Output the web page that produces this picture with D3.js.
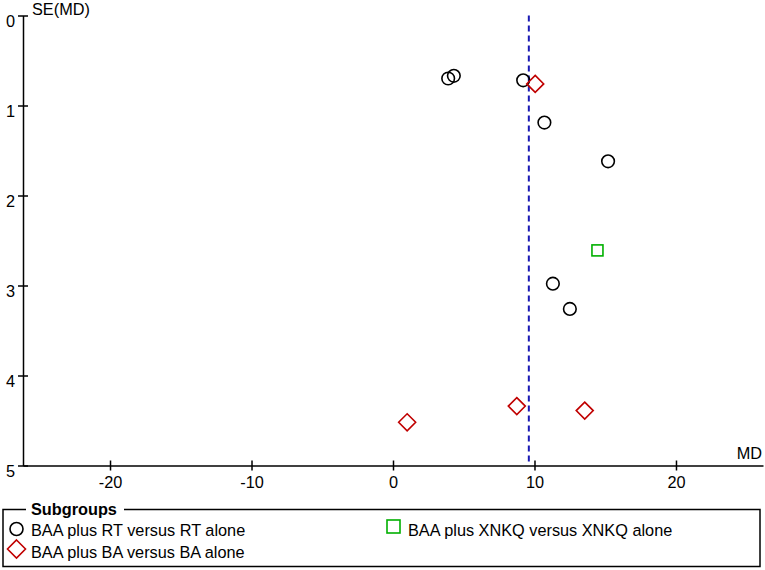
<!DOCTYPE html>
<html>
<head>
<meta charset="utf-8">
<script src="https://cdn.jsdelivr.net/npm/d3@7"></script>
<style>
  body { margin: 0; background: #fff; }
  text { font-family: "Liberation Sans", Arial, sans-serif; }
</style>
</head>
<body>
<div id="chart"></div>
<script>
// study values (MD, SE(MD))
const rtMD = [3.9, 4.3, 9.2, 10.7, 15.2, 11.3, 12.5];
const rtSE = [0.70, 0.67, 0.72, 1.19, 1.62, 2.98, 3.26];
const baMD = [10.05, 8.75, 1.0, 13.55];
const baSE = [0.76, 4.34, 4.52, 4.39];
const xnMD = [14.45];
const xnSE = [2.61];
const pooledMD = 9.6;
const xTicks = [-20, -10, 0, 10, 20];
const yTicks = [0, 1, 2, 3, 4, 5];
const legendLabels = ["BAA plus RT versus RT alone", "BAA plus BA versus BA alone", "BAA plus XNKQ versus XNKQ alone"];

const W = 765, H = 570;
const FS = 16.3;
const svg = d3.select("#chart").append("svg").attr("width", W).attr("height", H);

const xScale = d3.scaleLinear().domain([-26.15, 26.15]).range([23, 763]);
const yScale = d3.scaleLinear().domain([0, 5]).range([15.5, 465.5]);

// x axis
const xAxisG = svg.append("g")
    .attr("transform", "translate(0," + yScale(5) + ")")
    .call(d3.axisBottom(xScale).tickValues(xTicks).tickSizeOuter(0)
        .tickFormat(d => String(d)));
xAxisG.attr("font-size", FS).attr("font-family", "Liberation Sans, Arial, sans-serif");
xAxisG.select(".domain").attr("stroke-width", 1.5);
xAxisG.selectAll(".tick line").attr("y1", -5).attr("y2", 5).attr("stroke-width", 1.5);
xAxisG.selectAll(".tick text").attr("fill", "#000").attr("y", 22.5).attr("dy", 0);

// y axis
const yAxisG = svg.append("g")
    .attr("transform", "translate(" + xScale.range()[0] + ",0)")
    .call(d3.axisLeft(yScale).tickValues(yTicks).tickSizeOuter(0).tickFormat(d3.format("d")));
yAxisG.attr("font-size", FS).attr("font-family", "Liberation Sans, Arial, sans-serif");
yAxisG.select(".domain").attr("stroke-width", 1.5);
yAxisG.selectAll(".tick line").attr("x1", 5).attr("x2", -5).attr("stroke-width", 1.5);
yAxisG.selectAll(".tick text").attr("fill", "#000").attr("x", -8).attr("y", 10.5).attr("dy", 0);

svg.append("text").attr("x", 32).attr("y", 15).attr("font-size", FS).text("SE(MD)");
svg.append("text").attr("x", 762).attr("y", 459).attr("font-size", FS)
    .attr("text-anchor", "end").text("MD");

// pooled estimate
svg.append("line")
    .attr("x1", xScale(pooledMD)).attr("x2", xScale(pooledMD))
    .attr("y1", yScale(0)).attr("y2", yScale(5))
    .attr("stroke", "#1a1ab4").attr("stroke-width", 2).attr("stroke-dasharray", "6,4");

const plotG = svg.append("g");
const circles = rtMD.map((d, i) => ({md: d, se: rtSE[i]}));
const diamonds = baMD.map((d, i) => ({md: d, se: baSE[i]}));
const squares = xnMD.map((d, i) => ({md: d, se: xnSE[i]}));

plotG.selectAll(".rt").data(circles).join("circle")
    .attr("cx", d => xScale(d.md)).attr("cy", d => yScale(d.se)).attr("r", 6.3)
    .attr("fill", "none").attr("stroke", "#000").attr("stroke-width", 1.6);

const dsz = 8.5;
const diamondPath = "M0," + (-dsz) + "L" + dsz + ",0L0," + dsz + "L" + (-dsz) + ",0Z";
plotG.selectAll(".ba").data(diamonds).join("path")
    .attr("transform", d => "translate(" + xScale(d.md) + "," + yScale(d.se) + ")")
    .attr("d", diamondPath)
    .attr("fill", "none").attr("stroke", "#c00000").attr("stroke-width", 1.6);

plotG.selectAll(".xn").data(squares).join("rect")
    .attr("x", d => xScale(d.md) - 5.5).attr("y", d => yScale(d.se) - 5.5)
    .attr("width", 11).attr("height", 11)
    .attr("fill", "none").attr("stroke", "#00b000").attr("stroke-width", 1.6);

// legend
const lg = svg.append("g");
lg.append("rect").attr("x", 3).attr("y", 509.5).attr("width", 757).attr("height", 57)
    .attr("fill", "none").attr("stroke", "#000").attr("stroke-width", 1.5);
lg.append("rect").attr("x", 26).attr("y", 503).attr("width", 98).attr("height", 12).attr("fill", "#fff");
lg.append("text").attr("x", 31).attr("y", 515).attr("font-size", FS).attr("font-weight", "bold").text("Subgroups");

lg.append("circle").attr("cx", 16.5).attr("cy", 529).attr("r", 6.5)
    .attr("fill", "none").attr("stroke", "#000").attr("stroke-width", 1.6);
lg.append("text").attr("x", 31).attr("y", 536).attr("font-size", FS).text(legendLabels[0]);

const ldsz = 9;
lg.append("path").attr("transform", "translate(16.5,549)")
    .attr("d", "M0," + (-ldsz) + "L" + ldsz + ",0L0," + ldsz + "L" + (-ldsz) + ",0Z")
    .attr("fill", "none").attr("stroke", "#c00000").attr("stroke-width", 1.6);
lg.append("text").attr("x", 31).attr("y", 557.5).attr("font-size", FS).text(legendLabels[1]);

lg.append("rect").attr("x", 387).attr("y", 520).attr("width", 13).attr("height", 13)
    .attr("fill", "none").attr("stroke", "#00b000").attr("stroke-width", 1.6);
lg.append("text").attr("x", 408).attr("y", 536).attr("font-size", FS).text(legendLabels[2]);
</script>
</body>
</html>
